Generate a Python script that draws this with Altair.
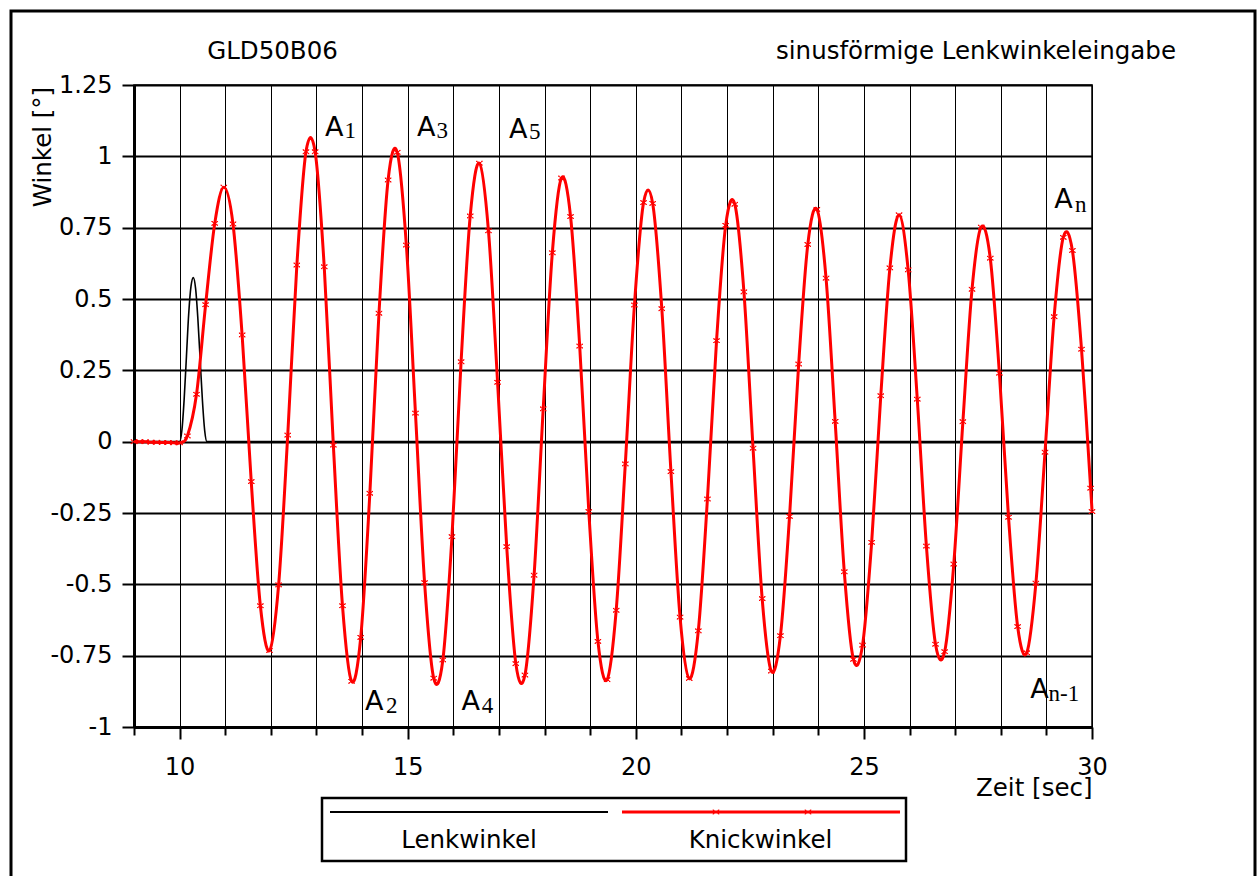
import altair as alt
import pandas as pd

# Knickwinkel (articulation angle) samples, time [s] and angle [deg]
knick_t = [9.0, 9.12, 9.25, 9.37, 9.5, 9.62, 9.75, 9.87, 10.0,
           10.17, 10.37, 10.57, 10.77, 10.97, 11.17, 11.37, 11.57, 11.77, 11.97,
           12.17, 12.37, 12.57, 12.77, 12.97, 13.17, 13.37, 13.57, 13.77, 13.97,
           14.17, 14.37, 14.57, 14.77, 14.97, 15.17, 15.37, 15.57, 15.77, 15.97,
           16.17, 16.37, 16.57, 16.77, 16.97, 17.17, 17.37, 17.57, 17.77, 17.97,
           18.17, 18.37, 18.57, 18.77, 18.97, 19.17, 19.37, 19.57, 19.77, 19.97,
           20.17, 20.37, 20.57, 20.77, 20.97, 21.17, 21.37, 21.57, 21.77, 21.97,
           22.17, 22.37, 22.57, 22.77, 22.97, 23.17, 23.37, 23.57, 23.77, 23.97,
           24.17, 24.37, 24.57, 24.77, 24.97, 25.17, 25.37, 25.57, 25.77, 25.97,
           26.17, 26.37, 26.57, 26.77, 26.97, 27.17, 27.37, 27.57, 27.77, 27.97,
           28.17, 28.37, 28.57, 28.77, 28.97, 29.17, 29.37, 29.57, 29.77, 29.97,
           30.0]
knick_v = [0.0, 0.0, 0.0, -0.002, -0.002, -0.003, -0.003, -0.004, -0.004,
           0.02, 0.166, 0.48, 0.765, 0.892, 0.763, 0.374, -0.14, -0.575, -0.732,
           -0.502, 0.023, 0.619, 1.016, 1.016, 0.613, -0.012, -0.575, -0.84, -0.686,
           -0.181, 0.45, 0.917, 1.014, 0.689, 0.1, -0.494, -0.829, -0.765, -0.333,
           0.28, 0.791, 0.976, 0.739, 0.208, -0.368, -0.778, -0.818, -0.468, 0.115,
           0.662, 0.924, 0.789, 0.335, -0.245, -0.7, -0.834, -0.591, -0.078, 0.479,
           0.838, 0.835, 0.466, -0.105, -0.615, -0.83, -0.663, -0.201, 0.354, 0.758,
           0.832, 0.525, -0.023, -0.55, -0.804, -0.68, -0.262, 0.272, 0.691, 0.814,
           0.573, 0.071, -0.456, -0.763, -0.713, -0.353, 0.161, 0.609, 0.795, 0.602,
           0.149, -0.366, -0.71, -0.736, -0.429, 0.07, 0.534, 0.752, 0.643, 0.24,
           -0.265, -0.648, -0.74, -0.496, -0.037, 0.438, 0.716, 0.67, 0.324, -0.163,
           -0.245]

# Lenkwinkel (steering angle): single pulse input
lenk_t = [9.0, 10.0, 10.05, 10.1, 10.15, 10.2, 10.25, 10.3, 10.35, 10.4,
          10.45, 10.5, 10.55, 10.6, 30.0]
lenk_v = [0.0, 0.0, 0.04, 0.15, 0.3, 0.45, 0.545, 0.575, 0.537, 0.431,
          0.288, 0.144, 0.038, 0.0, 0.0]

x_ticks = list(range(9, 31))
y_ticks = [-1, -0.75, -0.5, -0.25, 0, 0.25, 0.5, 0.75, 1, 1.25]

# amplitude labels A_i
ann_main = ["A", "A", "A", "A", "A", "A", "A"]
ann_main_t = [13.187, 14.064, 15.203, 16.179, 17.22, 29.17, 28.647]
ann_main_v = [1.073, -0.939, 1.073, -0.939, 1.066, 0.8175, -0.897]
ann_sub = ["1", "2", "3", "4", "5", "n", "n-1"]
ann_sub_t = [13.614, 14.524, 15.63, 16.622, 17.658, 29.63, 29.048]
ann_sub_v = [1.066, -0.951, 1.066, -0.951, 1.059, 0.806, -0.91]

FONT = "DejaVu Sans"
W, H = 958, 642

knick = pd.DataFrame({"t": knick_t, "v": knick_v})
lenk = pd.DataFrame({"t": lenk_t, "v": lenk_v})
amain = pd.DataFrame({"t": ann_main_t, "v": ann_main_v, "s": ann_main})
asub = pd.DataFrame({"t": ann_sub_t, "v": ann_sub_v, "s": ann_sub})
one = pd.DataFrame({"k": [0]})

x_axis = alt.Axis(
    values=x_ticks,
    labelExpr="datum.value % 5 == 0 ? toString(datum.value) : ''",
    labelFont=FONT, labelFontSize=24, labelColor="black",
    labelPadding=16, labelFlush=False, labelOverlap=False,
    tickSize={"condition": {"test": "datum.value % 5 == 0", "value": 12}, "value": 8},
    tickColor="black", tickWidth=2,
    domainColor="black", domainWidth=3,
    grid=True, gridColor="black", gridWidth=1,
    title="Zeit [sec]", titleFont=FONT, titleFontSize=24.5, titleFontWeight="normal",
    titleColor="black", titleX=W, titleY=68, titleAlign="right",
    titleBaseline="alphabetic",
)
y_axis = alt.Axis(
    values=y_ticks,
    labelExpr="toString(datum.value)",
    labelFont=FONT, labelFontSize=24, labelColor="black",
    labelPadding=10, labelAlign="right", labelBaseline="middle",
    tickSize=12, tickColor="black", tickWidth=2,
    domainColor="black", domainWidth=3,
    grid=True, gridColor="black", gridWidth=2,
    title="Winkel [°]", titleFont=FONT, titleFontSize=24.5, titleFontWeight="normal",
    titleColor="black", titleAngle=270, titleX=-84, titleY=61.5,
    titleAlign="center", titleBaseline="alphabetic",
)


def xenc():
    return alt.X("t:Q", scale=alt.Scale(domain=[9, 30], nice=False, zero=False), axis=x_axis)


def yenc():
    return alt.Y("v:Q", scale=alt.Scale(domain=[-1, 1.25], nice=False, zero=False), axis=y_axis)


xmark = "M-1,-0.6L1,0.6M-1,0.6L1,-0.6M-0.6,-0.6L-1,-0.6M0.6,-0.6L1,-0.6M-0.6,0.6L-1,0.6M0.6,0.6L1,0.6"

frame = alt.Chart(one).mark_rect(filled=False, stroke="black", strokeWidth=3).encode(
    x=alt.value(-123), x2=alt.value(1121), y=alt.value(-74), y2=alt.value(830)
)

lenk_line = alt.Chart(lenk).mark_line(color="black", strokeWidth=1.6, interpolate="monotone").encode(
    x=xenc(), y=yenc()
)
knick_line = alt.Chart(knick).mark_line(
    color="#ff0000", strokeWidth=3, interpolate="cardinal", tension=0
).encode(x=xenc(), y=yenc())
knick_pts = alt.Chart(knick).mark_point(
    shape=xmark, size=40, filled=False, color="#ff0000", strokeWidth=1, opacity=1
).encode(x=xenc(), y=yenc())

a_main = alt.Chart(amain).mark_text(
    align="left", baseline="alphabetic", font=FONT, fontSize=27, color="black"
).encode(x=xenc(), y=yenc(), text="s:N")
a_sub = alt.Chart(asub).mark_text(
    align="left", baseline="alphabetic", font="Liberation Serif", fontSize=23, color="black"
).encode(x=xenc(), y=yenc(), text="s:N")

title_l = alt.Chart(one).mark_text(
    text="GLD50B06", align="center", baseline="alphabetic", font=FONT, fontSize=24.5, color="black"
).encode(x=alt.value(138.5), y=alt.value(-26))
title_r = alt.Chart(one).mark_text(
    text="sinusförmige Lenkwinkeleingabe", align="center", baseline="alphabetic",
    font=FONT, fontSize=24.5, color="black"
).encode(x=alt.value(842), y=alt.value(-26))

# legend
leg_box = alt.Chart(one).mark_rect(filled=False, stroke="black", strokeWidth=2.5).encode(
    x=alt.value(188), x2=alt.value(772), y=alt.value(713), y2=alt.value(776)
)
leg_black = alt.Chart(one).mark_rule(color="black", strokeWidth=2).encode(
    x=alt.value(196), x2=alt.value(474), y=alt.value(727)
)
leg_red = alt.Chart(one).mark_rule(color="#ff0000", strokeWidth=3).encode(
    x=alt.value(488), x2=alt.value(766), y=alt.value(727)
)


def leg_marker(px):
    return alt.Chart(one).mark_point(
        shape=xmark, size=40, filled=False, color="#ff0000", strokeWidth=1, opacity=1
    ).encode(x=alt.value(px), y=alt.value(727))


leg_t1 = alt.Chart(one).mark_text(
    text="Lenkwinkel", align="center", baseline="alphabetic", font=FONT, fontSize=24.5, color="black"
).encode(x=alt.value(335), y=alt.value(763))
leg_t2 = alt.Chart(one).mark_text(
    text="Knickwinkel", align="center", baseline="alphabetic", font=FONT, fontSize=24.5, color="black"
).encode(x=alt.value(626.5), y=alt.value(763))

chart = alt.layer(
    frame, lenk_line, knick_line, knick_pts, a_main, a_sub,
    title_l, title_r, leg_box, leg_black, leg_red, leg_marker(582), leg_marker(674),
    leg_t1, leg_t2,
).properties(
    width=W, height=H,
    autosize=alt.AutoSizeParams(type="none"),
    padding={"left": 134, "top": 85, "right": 165, "bottom": 149},
    background="white",
).configure_view(stroke="black", strokeWidth=1.5)

chart.save("out.html", embed_options={"renderer": "svg", "actions": False})
